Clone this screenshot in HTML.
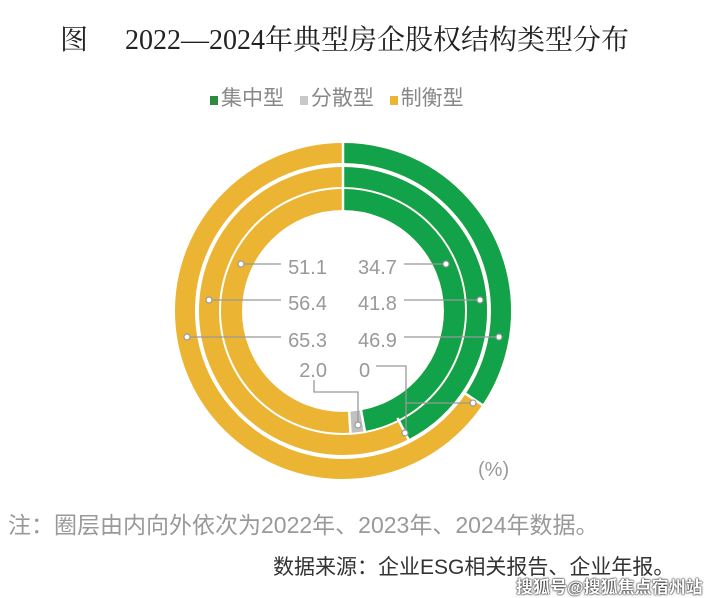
<!DOCTYPE html>
<html><head><meta charset="utf-8"><style>
body{margin:0;background:#fff;width:706px;height:598px;overflow:hidden;position:relative;font-family:"Liberation Sans","Noto Sans CJK SC",sans-serif}
.t{position:absolute;white-space:nowrap}
</style></head><body>
<div class="t" style="left:60px;top:18px;font-size:28px;color:#222;font-family:'Liberation Serif','Noto Serif CJK SC',serif">图<span style="display:inline-block;width:37px"></span>2022—2024年典型房企股权结构类型分布</div>
<div class="t" style="left:210px;top:82px;font-size:21px;color:#888">
<span style="display:inline-block;width:8px;height:9px;background:#2e8b3e;margin-right:3px"></span>集中型
<span style="display:inline-block;width:8px;height:9px;background:#c8c8c8;margin:0 3px 0 10px"></span>分散型
<span style="display:inline-block;width:8px;height:9px;background:#ebb432;margin:0 3px 0 10px"></span>制衡型</div>
<svg width="706" height="598" style="position:absolute;left:0;top:0">
<g transform="translate(343,311)">
<g fill="none">
<circle r="158" stroke="#ebb432" stroke-width="20"/>
<circle r="158" stroke="#12a24a" stroke-width="20" stroke-dasharray="341.9 2000" transform="rotate(-90)"/>
<circle r="134" stroke="#ebb432" stroke-width="20"/>
<circle r="134" stroke="#12a24a" stroke-width="20" stroke-dasharray="357.8 2000" transform="rotate(-90)"/>
<circle r="111.5" stroke="#ebb432" stroke-width="21"/>
<circle r="111.5" stroke="#12a24a" stroke-width="21" stroke-dasharray="330.3 2000" transform="rotate(-90)"/>
<circle r="111.5" stroke="#c0c0c0" stroke-width="21" stroke-dasharray="14 2000" transform="rotate(79.7)"/>
</g>
<g stroke="#fff" stroke-width="2.5">
<line x1="0" y1="-95" x2="0" y2="-175"/>
<line x1="0" y1="145" x2="0" y2="175" transform="rotate(-56)"/>
<line x1="0" y1="120" x2="0" y2="146" transform="rotate(-27)"/>
<line x1="0" y1="98" x2="0" y2="124" transform="rotate(-10.3)"/>
<line x1="0" y1="98" x2="0" y2="124" transform="rotate(-3.5)"/>
</g>
</g>
<g stroke="#999" stroke-width="1.3" fill="none">
<line x1="241" y1="264" x2="281" y2="264"/>
<line x1="209" y1="300" x2="281" y2="300"/>
<line x1="187" y1="337" x2="281" y2="337"/>
<line x1="404" y1="264" x2="446" y2="264"/>
<line x1="404" y1="300" x2="480" y2="300"/>
<line x1="404" y1="337" x2="499" y2="337"/>
<polyline points="314,380 314,392 358,392 358,425"/>
<polyline points="376,366 406,366 406,433"/>
<line x1="406" y1="403" x2="473" y2="403"/>
</g>
<g fill="#fff" stroke="#999" stroke-width="1.2">
<circle cx="241" cy="264" r="3"/><circle cx="209" cy="300" r="3"/><circle cx="187" cy="337" r="3"/>
<circle cx="446" cy="264" r="3"/><circle cx="480" cy="300" r="3"/><circle cx="499" cy="337" r="3"/>
<circle cx="358" cy="425" r="3"/><circle cx="405" cy="433" r="3"/><circle cx="473" cy="403" r="3"/>
</g>
<g font-size="20" fill="#999" font-family="Liberation Sans,sans-serif">
<text x="327" y="274" text-anchor="end">51.1</text>
<text x="327" y="310" text-anchor="end">56.4</text>
<text x="327" y="347" text-anchor="end">65.3</text>
<text x="327" y="377" text-anchor="end">2.0</text>
<text x="358" y="274">34.7</text>
<text x="358" y="310">41.8</text>
<text x="358" y="347">46.9</text>
<text x="359" y="377">0</text>
</g>
</svg>
<div class="t" style="left:478px;top:459px;font-size:20px;color:#999">(%)</div>
<div class="t" style="left:8px;top:506px;font-size:23px;color:#999">注：圈层由内向外依次为2022年、2023年、2024年数据。</div>
<div class="t" style="left:273px;top:551px;font-size:21px;color:#333">数据来源：企业ESG相关报告、企业年报。</div>
<div class="t" style="left:516px;top:573px;font-size:17px;font-weight:bold;color:#fff;text-shadow:0 0 2px #000,0 0 1px #000">搜狐号@搜狐焦点宿州站</div>
</body></html>
